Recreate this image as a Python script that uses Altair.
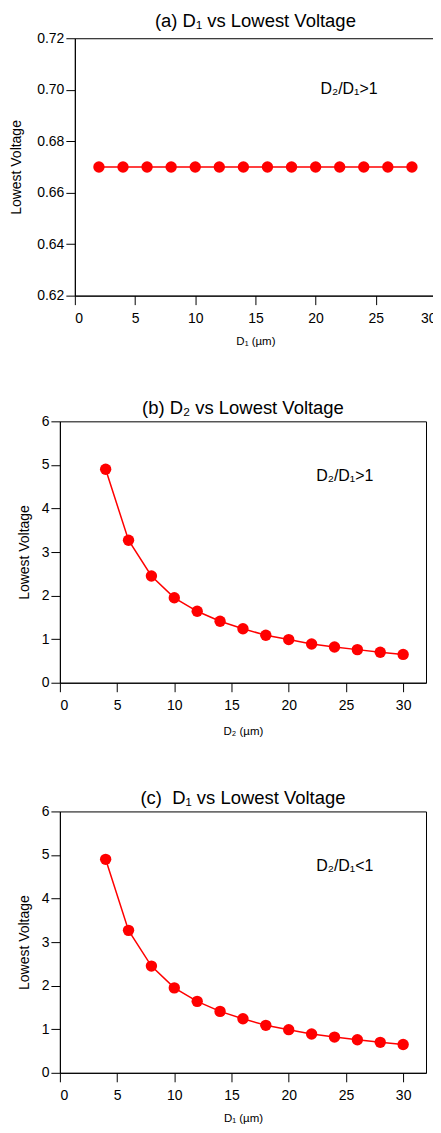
import altair as alt
import pandas as pd

FONT = "Liberation Sans"
RED = "#ff0000"

# ---- data ----
d1_a = [2, 4, 6, 8, 10, 12, 14, 16, 18, 20, 22, 24, 26, 28]
volt_a = [0.67, 0.67, 0.67, 0.67, 0.67, 0.67, 0.67, 0.67, 0.67, 0.67, 0.67, 0.67, 0.67, 0.67]

d2_b = [4, 6, 8, 10, 12, 14, 16, 18, 20, 22, 24, 26, 28, 30]
volt_b = [4.90, 3.27, 2.45, 1.95, 1.64, 1.41, 1.24, 1.09, 0.99, 0.89, 0.82, 0.76, 0.70, 0.65]

d1_c = [4, 6, 8, 10, 12, 14, 16, 18, 20, 22, 24, 26, 28, 30]
volt_c = [4.90, 3.27, 2.45, 1.95, 1.64, 1.41, 1.24, 1.09, 0.99, 0.89, 0.82, 0.76, 0.70, 0.65]

x_ticks = [0, 5, 10, 15, 20, 25, 30]
x_domain_a = [0, 30]
x_domain_bc = [0, 32]
y_ticks_a = [0.62, 0.64, 0.66, 0.68, 0.70, 0.72]
y_ticks_bc = [0, 1, 2, 3, 4, 5, 6]

titles = ["(a) D\u2081 vs Lowest Voltage", "(b) D\u2082 vs Lowest Voltage",
          "(c)\u00a0 D\u2081 vs Lowest Voltage"]
x_titles = ["D\u2081 (\u00b5m)", "D\u2082 (\u00b5m)", "D\u2081 (\u00b5m)"]
notes = ["D\u2082/D\u2081>1", "D\u2082/D\u2081>1", "D\u2082/D\u2081<1"]
note_x = [20.4, 22.4, 22.4]
note_y = [0.6983, 4.64, 4.64]


def panel(xs, ys, title, xtitle, xdom, ydom, yticks, yfmt, note, nx, ny, w, h,
          toff, ytp, xtp):
    df = pd.DataFrame({"x": xs, "y": ys})
    xenc = alt.X("x:Q", scale=alt.Scale(domain=xdom, nice=False, zero=False),
                 axis=alt.Axis(values=x_ticks, title=xtitle, titleFontSize=11.5,
                               labelPadding=7, titlePadding=xtp, format="d"))
    yenc = alt.Y("y:Q", scale=alt.Scale(domain=ydom, nice=False, zero=False),
                 axis=alt.Axis(values=yticks, format=yfmt, title="Lowest Voltage",
                               titleFontSize=14, labelPadding=2, titlePadding=ytp))
    base = alt.Chart(df)
    line = base.mark_line(color=RED, strokeWidth=1.5).encode(x=xenc, y=yenc)
    pts = base.mark_circle(color=RED, size=130, opacity=1).encode(x="x:Q", y="y:Q")
    ndf = pd.DataFrame({"x": [nx], "y": [ny], "t": [note]})
    ann = alt.Chart(ndf).mark_text(align="left", baseline="alphabetic", fontSize=16,
                                   font=FONT, color="black").encode(
        x="x:Q", y="y:Q", text="t:N")
    return alt.layer(line, pts, ann).properties(
        width=w, height=h,
        title=alt.TitleParams(text=title, fontSize=18.5, font=FONT, fontWeight="normal",
                              color="black", anchor="middle", frame="group",
                              baseline="bottom", offset=toff))


def spacer(w):
    return alt.Chart(pd.DataFrame({"x": [0]})).mark_rect(opacity=0).encode(
        x=alt.value(0), x2=alt.value(w), y=alt.value(0), y2=alt.value(10)).properties(
        width=w, height=10, view=alt.ViewBackground(stroke="transparent"))


pa = panel(d1_a, volt_a, titles[0], x_titles[0], x_domain_a, [0.62, 0.72], y_ticks_a,
           ".2f", notes[0], note_x[0], note_y[0], 362, 258, -18, 13, 10)
pb = panel(d2_b, volt_b, titles[1], x_titles[1], x_domain_bc, [0, 6], y_ticks_bc, "d",
           notes[1], note_x[1], note_y[1], 367, 262, -22, 10, 13)
pc = panel(d1_c, volt_c, titles[2], x_titles[2], x_domain_bc, [0, 6], y_ticks_bc, "d",
           notes[2], note_x[2], note_y[2], 367, 262, -22, 10, 10)

chart = alt.vconcat(
    alt.hconcat(spacer(4), pa, spacing=0),
    alt.hconcat(spacer(11), pb, spacing=0),
    alt.hconcat(spacer(11), pc, spacing=0),
    spacing=51,
).properties(padding={"left": -5, "top": 2, "right": -4, "bottom": 0}).configure_axis(
    domainColor="black", tickColor="black", labelColor="black", titleColor="black",
    labelFont=FONT, titleFont=FONT, titleFontWeight="normal", labelFontSize=14,
    grid=False, tickSize=9, domainWidth=1, tickWidth=1,
).configure_view(stroke="black", strokeWidth=1)

chart.save("out.html", embed_options={"renderer": "svg", "actions": False})
